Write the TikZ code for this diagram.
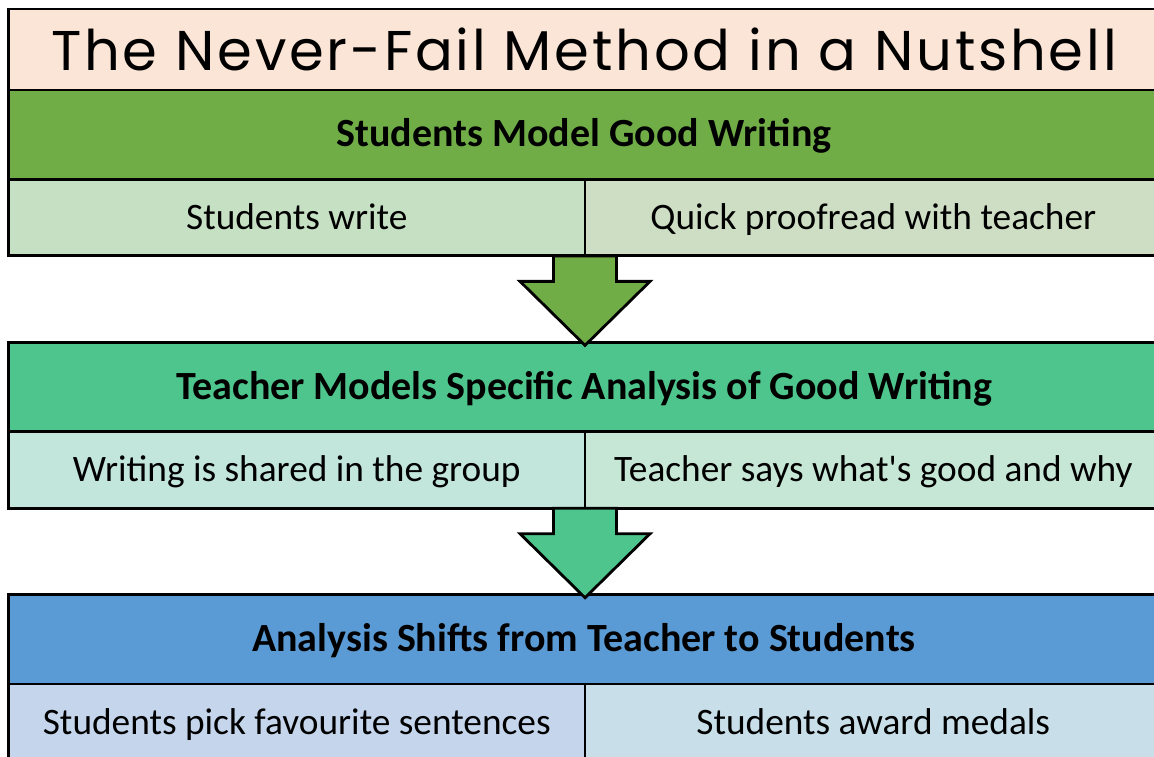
\documentclass[tikz,border=0pt]{standalone}
\usepackage{fontspec}
\setmainfont{Carlito}
\newfontfamily\cellfont{Carlito}
\newfontfamily\titlefont[LetterSpace=5]{Poppins}
\usetikzlibrary{calc}

\definecolor{peach}{RGB}{251,229,214}
\definecolor{grnHead}{RGB}{112,173,71}
\definecolor{grnLeft}{RGB}{198,224,196}
\definecolor{grnRight}{RGB}{205,222,196}
\definecolor{tealHead}{RGB}{78,197,141}
\definecolor{tealLeft}{RGB}{194,230,220}
\definecolor{tealRight}{RGB}{198,230,214}
\definecolor{blueHead}{RGB}{91,155,213}
\definecolor{blueLeft}{RGB}{197,213,236}
\definecolor{blueRight}{RGB}{200,223,234}

\tikzset{every picture/.style={line width=2.1pt}}
\tikzset{
  titlebox/.style={draw, fill=peach, anchor=north west, inner sep=0pt, outer sep=0pt,
    minimum width=863.25pt, minimum height=60.75pt, font=\titlefont\fontsize{42}{50}\selectfont},
  headbox/.style={draw, anchor=north west, inner sep=0pt, outer sep=0pt,
    text height=22pt, text depth=4pt,
    minimum width=863.25pt, minimum height=67pt, font=\cellfont\bfseries\fontsize{30}{36}\selectfont},
  cellbox/.style={draw, anchor=north west, inner sep=0pt, outer sep=0pt,
    text height=22pt, text depth=4pt,
    minimum width=432.4pt, minimum height=57.4pt, font=\cellfont\fontsize{28}{34}\selectfont},
  blockarrow/.style={draw, line join=miter}
}

\begin{document}
\begin{tikzpicture}[x=0.75pt,y=0.75pt,yscale=-1,xscale=1]
\clip (0,0) rectangle (1154,757);

% Title
\node[titlebox] (title) at (8.5,9) {The Never-Fail Method in a Nutshell};

% Step 1
\node[headbox, fill=grnHead] (head1) at (title.south west) {Students Model Good Writing};
\node[cellbox, fill=grnLeft] (left1) at (head1.south west) {Students write};
\node[cellbox, fill=grnRight] (right1) at (left1.north east) {Quick proofread with teacher};

% Step 2
\node[headbox, fill=tealHead] (head2) at ($(left1.south west)+(0,86.5)$) {Teacher Models Specific Analysis of Good Writing};
\node[cellbox, fill=tealLeft] (left2) at (head2.south west) {Writing is shared in the group};
\node[cellbox, fill=tealRight] (right2) at (left2.north east) {Teacher says what's good and why};

% Step 3
\node[headbox, fill=blueHead] (head3) at ($(left2.south west)+(0,86.5)$) {Analysis Shifts from Teacher to Students};
\node[cellbox, fill=blueLeft] (left3) at (head3.south west) {Students pick favourite sentences};
\node[cellbox, fill=blueRight] (right3) at (left3.north east) {Students award medals};

%Shape: Down Arrow
\draw[blockarrow, fill=grnHead] ($(left1.south east)+(-31.5,0)$) -- ++(0,25.5) -- ++(-33.5,0)
  -- ($(head2.north west -| left1.south east)+(0,3)$) -- ($(left1.south east)+(65,25.5)$)
  -- ++(-33.5,0) -- ($(left1.south east)+(31.5,0)$) -- cycle;
%Shape: Down Arrow
\draw[blockarrow, fill=tealHead] ($(left2.south east)+(-31.5,0)$) -- ++(0,25.5) -- ++(-33.5,0)
  -- ($(head3.north west -| left2.south east)+(0,3)$) -- ($(left2.south east)+(65,25.5)$)
  -- ++(-33.5,0) -- ($(left2.south east)+(31.5,0)$) -- cycle;

\end{tikzpicture}
\end{document}
